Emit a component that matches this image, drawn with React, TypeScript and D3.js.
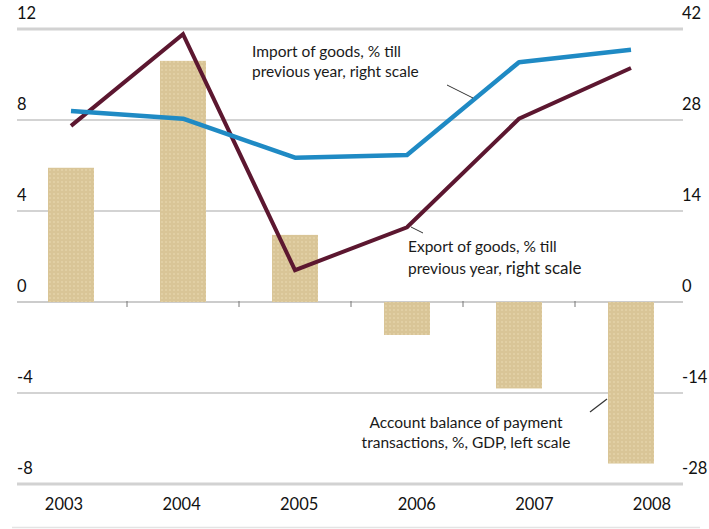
import React from "react";
import * as d3 from "d3";

const years = ["2003", "2004", "2005", "2006", "2007", "2008"];
const balance = [5.9, 10.6, 2.95, -1.45, -3.8, -7.1];
const importGoods = [29.4, 28.2, 22.2, 22.6, 36.9, 38.8];
const exportGoods = [27.1, 41.2, 4.9, 11.5, 28.2, 36.0];
const leftTicks = [12, 8, 4, 0, -4, -8];
const rightTicks = [42, 28, 14, 0, -14, -28];

const W = 709;
const H = 529;
const FONT = "Lato, 'Open Sans', sans-serif";

export default function App() {
  const x = d3.scalePoint<string>().domain(years).range([71, 631]);
  const xLabel = d3.scalePoint<string>().domain(years).range([64, 652]);
  const yL = d3.scaleLinear().domain([-8, 12]).range([484, 29]);
  const yR = d3.scaleLinear().domain([-28, 42]).range([484, 29]);
  const barW = 46;

  const lineGen = (vals: number[]) =>
    d3
      .line<number>()
      .x((_, i) => x(years[i]) as number)
      .y((v) => yR(v))(vals) as string;

  const midTicks = years.slice(0, -1).map((y, i) => ((x(y) as number) + (x(years[i + 1]) as number)) / 2);

  return (
    <svg width={W} height={H} style={{ position: "absolute", left: 0, top: 0, background: "#fff" }}>
      <defs>
        <pattern id="dots" width="4" height="4" patternUnits="userSpaceOnUse">
          <rect width="4" height="4" fill="#d9c597" />
          <circle cx="2" cy="2" r="0.8" fill="#ebdcb6" />
        </pattern>
      </defs>
      {leftTicks.map((t) => {
        const outer = t === 12 || t === -8;
        return (
          <line
            key={t}
            x1={17}
            x2={683}
            y1={yL(t)}
            y2={yL(t)}
            stroke={outer ? "#d2d2d2" : t === 0 ? "#9a9a9a" : "#a8a8a8"}
            strokeWidth={outer ? 3 : 1.2}
          />
        );
      })}
      {midTicks.map((mx, i) => (
        <line key={i} x1={mx} x2={mx} y1={yL(0) - 1} y2={yL(0) + 5} stroke="#777" strokeWidth={1} />
      ))}
      {balance.map((v, i) => (
        <rect
          key={years[i]}
          x={(x(years[i]) as number) - barW / 2}
          y={Math.min(yL(v), yL(0))}
          width={barW}
          height={Math.abs(yL(v) - yL(0))}
          fill="url(#dots)"
        />
      ))}
      <path d={lineGen(exportGoods)} fill="none" stroke="#5c1730" strokeWidth={4} strokeLinejoin="miter" />
      <path d={lineGen(importGoods)} fill="none" stroke="#1f8ac4" strokeWidth={4.5} strokeLinejoin="round" />
      {leftTicks.map((t) => (
        <text key={"l" + t} x={17} y={yL(t) - 10} fontFamily={FONT} fontSize={16.5} fill="#111">
          {t}
        </text>
      ))}
      {rightTicks.map((t) => (
        <text key={"r" + t} x={682} y={yR(t) - 10} fontFamily={FONT} fontSize={16.5} fill="#111">
          {t}
        </text>
      ))}
      {years.map((y) => (
        <text key={"y" + y} x={xLabel(y)} y={510} textAnchor="middle" fontFamily={FONT} fontSize={16.5} fill="#111">
          {y}
        </text>
      ))}
      <line x1={12} x2={700} y1={527.5} y2={527.5} stroke="#e4e4e4" strokeWidth={1.5} />
      <g fontFamily={FONT} fontSize={15.5} fill="#1a1a1a">
        <text x={252} y={57}>Import of goods, % till</text>
        <text x={252} y={77}>previous year, right scale</text>
        <line x1={447} y1={85} x2={473} y2={98} stroke="#333" strokeWidth={1} />
        <text x={408} y={252}>Export of goods, % till</text>
        <text x={408} y={274}>
          previous year, <tspan fontSize={17}>right scale</tspan>
        </text>
        <line x1={411} y1={227} x2={423} y2={233} stroke="#333" strokeWidth={1} />
        <text x={466} y={428} textAnchor="middle">Account balance of payment</text>
        <text x={466} y={448} textAnchor="middle">transactions, %, GDP, left scale</text>
        <line x1={590} y1={412} x2={607} y2={399} stroke="#333" strokeWidth={1.2} />
      </g>
    </svg>
  );
}
